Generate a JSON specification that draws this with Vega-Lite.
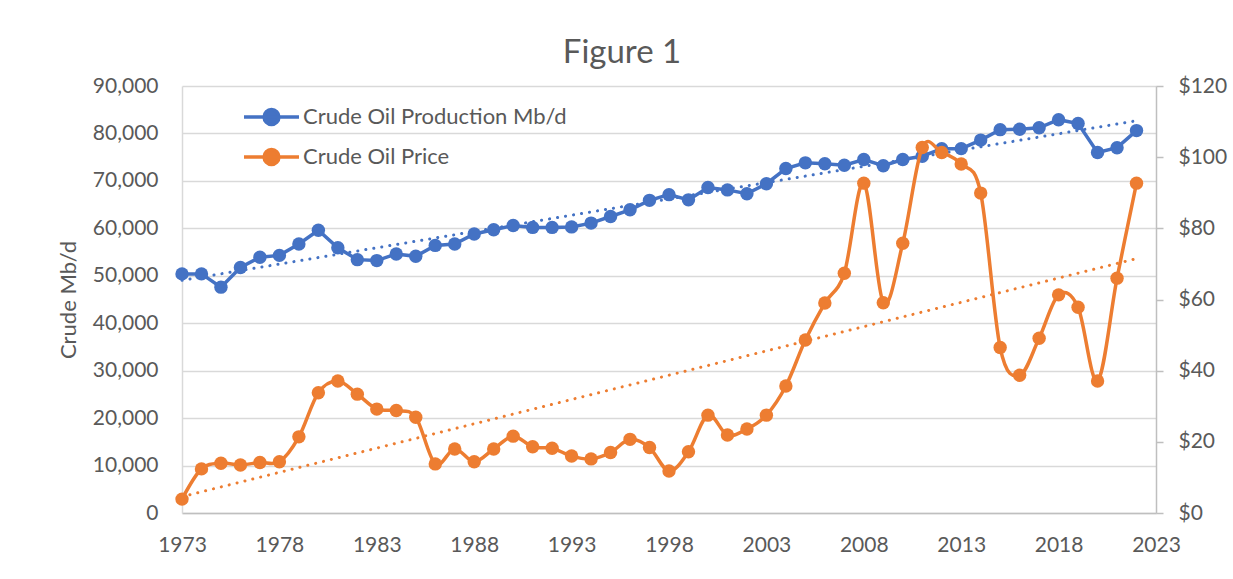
{
  "$schema": "https://vega.github.io/schema/vega-lite/v6.json",
  "autosize": {"type": "none"},
  "width": 974,
  "height": 427,
  "padding": {"left": 182, "top": 86, "right": 77, "bottom": 66},
  "background": "white",
  "title": {
    "text": "Figure 1",
    "fontSize": 33,
    "font": "Lato",
    "fontWeight": "normal",
    "color": "#595959",
    "anchor": "middle",
    "dx": -47,
    "offset": 5
  },
  "config": {
    "font": "Lato",
    "view": {"stroke": null},
    "axis": {
      "labelFont": "Lato",
      "labelFontSize": 21,
      "labelColor": "#595959",
      "titleFont": "Lato",
      "titleColor": "#595959",
      "titleFontWeight": "normal"
    }
  },
  "data": {
    "values": [
      {"year": 1973, "production": 50400, "price": 3.9},
      {"year": 1974, "production": 50400, "price": 12.4},
      {"year": 1975, "production": 47600, "price": 14.0},
      {"year": 1976, "production": 51750, "price": 13.5},
      {"year": 1977, "production": 53900, "price": 14.2},
      {"year": 1978, "production": 54300, "price": 14.4},
      {"year": 1979, "production": 56700, "price": 21.4},
      {"year": 1980, "production": 59600, "price": 33.8},
      {"year": 1981, "production": 55900, "price": 37.1},
      {"year": 1982, "production": 53400, "price": 33.4},
      {"year": 1983, "production": 53200, "price": 29.2},
      {"year": 1984, "production": 54600, "price": 28.8},
      {"year": 1985, "production": 54100, "price": 26.9},
      {"year": 1986, "production": 56400, "price": 13.8},
      {"year": 1987, "production": 56700, "price": 18.0},
      {"year": 1988, "production": 58800, "price": 14.4},
      {"year": 1989, "production": 59700, "price": 18.0},
      {"year": 1990, "production": 60600, "price": 21.6},
      {"year": 1991, "production": 60200, "price": 18.6},
      {"year": 1992, "production": 60200, "price": 18.2},
      {"year": 1993, "production": 60300, "price": 16.0},
      {"year": 1994, "production": 61100, "price": 15.2},
      {"year": 1995, "production": 62500, "price": 17.0},
      {"year": 1996, "production": 63900, "price": 20.7},
      {"year": 1997, "production": 65900, "price": 18.4},
      {"year": 1998, "production": 67100, "price": 11.8},
      {"year": 1999, "production": 66000, "price": 17.2},
      {"year": 2000, "production": 68600, "price": 27.5},
      {"year": 2001, "production": 68100, "price": 21.9},
      {"year": 2002, "production": 67300, "price": 23.6},
      {"year": 2003, "production": 69400, "price": 27.5},
      {"year": 2004, "production": 72600, "price": 35.7},
      {"year": 2005, "production": 73800, "price": 48.6},
      {"year": 2006, "production": 73600, "price": 59.0},
      {"year": 2007, "production": 73300, "price": 67.4},
      {"year": 2008, "production": 74500, "price": 92.7},
      {"year": 2009, "production": 73200, "price": 59.1},
      {"year": 2010, "production": 74500, "price": 75.8},
      {"year": 2011, "production": 75200, "price": 102.7},
      {"year": 2012, "production": 76800, "price": 101.3},
      {"year": 2013, "production": 76800, "price": 98.1},
      {"year": 2014, "production": 78600, "price": 89.9},
      {"year": 2015, "production": 80800, "price": 46.5},
      {"year": 2016, "production": 80900, "price": 38.7},
      {"year": 2017, "production": 81200, "price": 49.1},
      {"year": 2018, "production": 82900, "price": 61.3},
      {"year": 2019, "production": 82100, "price": 57.8},
      {"year": 2020, "production": 76000, "price": 37.1},
      {"year": 2021, "production": 77000, "price": 66.0},
      {"year": 2022, "production": 80600, "price": 92.7}
    ]
  },
  "encoding": {
    "x": {
      "field": "year",
      "type": "quantitative",
      "scale": {"domain": [1973, 2023], "nice": false, "zero": false},
      "axis": {
        "title": null,
        "values": [1973, 1978, 1983, 1988, 1993, 1998, 2003, 2008, 2013, 2018, 2023],
        "format": "d",
        "grid": false,
        "ticks": false,
        "domainColor": "#bfbfbf",
        "domainWidth": 1.5,
        "labelPadding": 32,
        "labelBaseline": "middle",
        "labelFlush": false,
        "labelOverlap": false
      }
    }
  },
  "layer": [
    {
      "encoding": {
        "y": {
          "field": "production",
          "type": "quantitative",
          "scale": {"domain": [0, 90000], "nice": false},
          "axis": {
            "orient": "left",
            "title": "Crude Mb/d",
            "titleFontSize": 22,
            "titlePadding": 12,
            "values": [0, 10000, 20000, 30000, 40000, 50000, 60000, 70000, 80000, 90000],
            "format": ",.0f",
            "grid": true,
            "gridColor": "#d9d9d9",
            "gridWidth": 1.5,
            "ticks": false,
            "domainColor": "#d9d9d9",
            "domainWidth": 1.5,
            "labelPadding": 24
          }
        }
      },
      "layer": [
        {
          "transform": [{"regression": "production", "on": "year", "extent": [1973, 2022]}],
          "mark": {"type": "line", "color": "#4472C4", "strokeWidth": 3, "strokeDash": [0.1, 8], "strokeCap": "round"},
          "encoding": {}
        },
        {
          "mark": {"type": "line", "strokeWidth": 3.5},
          "encoding": {
            "color": {
              "datum": "Crude Oil Production Mb/d",
              "type": "nominal",
              "scale": {
                "domain": ["Crude Oil Production Mb/d", "Crude Oil Price"],
                "range": ["#4472C4", "#ED7D31"]
              },
              "legend": {
                "title": null,
                "orient": "none",
                "legendX": 60,
                "legendY": 11,
                "padding": 0,
                "symbolType": "M-1,0L1,0M-0.27,0A0.27,0.27,0,1,0,0.27,0A0.27,0.27,0,1,0,-0.27,0Z",
                "symbolSize": 3025,
                "symbolStrokeWidth": 3.5,
                "labelFontSize": 22,
                "labelFont": "Lato",
                "labelColor": "#595959",
                "labelOffset": 2,
                "labelLimit": 500,
                "clipHeight": 40,
                "rowPadding": 0,
                "encode": {
                  "symbols": {
                    "update": {
                      "fill": {"scale": "color", "field": "value"},
                      "stroke": {"scale": "color", "field": "value"},
                      "strokeWidth": {"value": 3.5},
                      "opacity": {"value": 1}
                    }
                  }
                }
              }
            }
          }
        },
        {
          "mark": {"type": "point", "filled": true, "size": 180, "opacity": 1},
          "encoding": {
            "color": {"datum": "Crude Oil Production Mb/d", "type": "nominal"}
          }
        }
      ]
    },
    {
      "encoding": {
        "y": {
          "field": "price",
          "type": "quantitative",
          "scale": {"domain": [0, 120], "nice": false},
          "axis": {
            "orient": "right",
            "title": null,
            "values": [0, 20, 40, 60, 80, 100, 120],
            "format": "$.0f",
            "grid": false,
            "ticks": true,
            "tickSize": 7,
            "tickColor": "#bfbfbf",
            "tickWidth": 1.5,
            "domainColor": "#bfbfbf",
            "domainWidth": 1.5,
            "labelPadding": 15
          }
        }
      },
      "layer": [
        {
          "transform": [{"regression": "price", "on": "year", "extent": [1973, 2022]}],
          "mark": {"type": "line", "color": "#ED7D31", "strokeWidth": 3, "strokeDash": [0.1, 8], "strokeCap": "round"},
          "encoding": {}
        },
        {
          "mark": {"type": "line", "strokeWidth": 3.5, "interpolate": "cardinal"},
          "encoding": {
            "color": {"datum": "Crude Oil Price", "type": "nominal"}
          }
        },
        {
          "mark": {"type": "point", "filled": true, "size": 180, "opacity": 1},
          "encoding": {
            "color": {"datum": "Crude Oil Price", "type": "nominal"}
          }
        }
      ]
    }
  ],
  "resolve": {"scale": {"y": "independent"}}
}
